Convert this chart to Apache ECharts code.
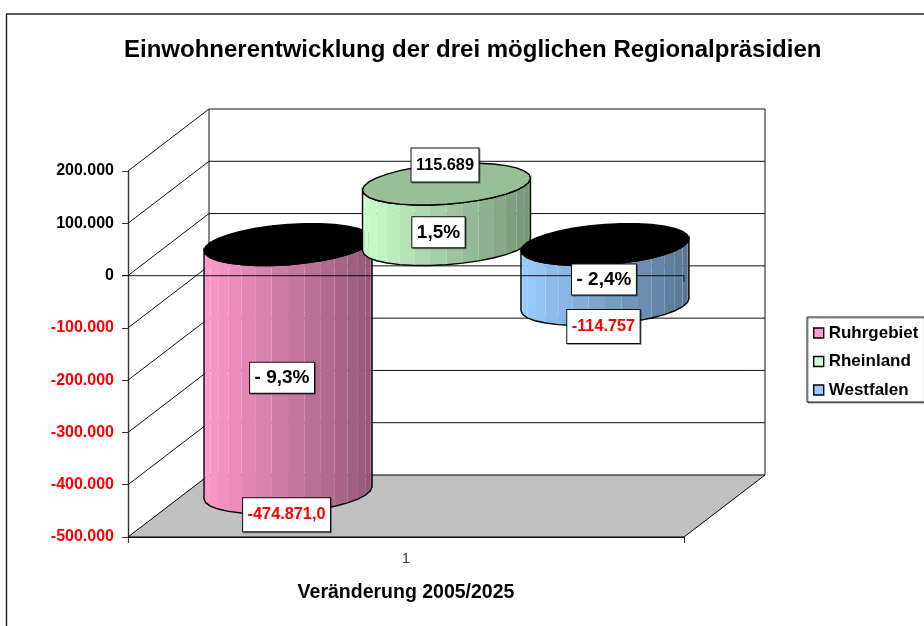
<!DOCTYPE html>
<html>
<head>
<meta charset="utf-8">
<style>html,body{margin:0;padding:0;background:#fff}#c{width:924px;height:626px}</style>
<script src="https://cdn.jsdelivr.net/npm/echarts@6/dist/echarts.min.js"></script>
</head>
<body>
<div id="c"></div>
<script>
// ---- data ----
const categories = ['1'];
const seriesNames = ['Ruhrgebiet', 'Rheinland', 'Westfalen'];
const ruhrgebiet = [-474871];
const rheinland = [115689];
const westfalen = [-114757];
const valueLabels = ['-474.871,0', '115.689', '-114.757'];
const shareLabels = ['- 9,3%', '1,5%', '- 2,4%'];
const yTicks = [-500000, -400000, -300000, -200000, -100000, 0, 100000, 200000];

// ---- styling / layout (not data) ----
const FONT = '"Liberation Sans", Arial, sans-serif';
const baseColors = [[255, 153, 204], [204, 255, 204], [153, 204, 255]];
const depthX = 81, depthY = -62;
const slotShare = 0.285;            // horizontal distance between cylinders / band width
const rx = 80.5, sx = 24, ry = 21;  // footprint ellipse: x radius, shear, y radius
const N = 16;
const valueLabelShift = [22, -19, 22];
const shareOffsets = [[-6, 9], [-8, 18], [-1, 5]];

const hex = a => 'rgb(' + a.map(v => Math.round(v)).join(',') + ')';
const shade = (c, f) => c.map(v => v * f);

function ellipsePoint(cx, cy, t) {
  return [cx + rx * Math.cos(t) + sx * Math.sin(t), cy - ry * Math.sin(t)];
}

function cylinderItem(params, api) {
  const idx = params.seriesIndex - 1;
  const val = api.value(1);
  const band = api.size([1, 0])[0];
  const base = api.coord([0, 0]);
  const end = api.coord([0, val]);
  const cx = base[0] + depthX / 2 + (idx - 1) * slotShare * band;
  const yTop = Math.min(base[1], end[1]) + depthY / 2;
  const yBot = Math.max(base[1], end[1]) + depthY / 2;
  const th = Math.atan2(sx, rx);
  const r = Math.hypot(rx, sx);
  const col = baseColors[idx];
  const t0 = Math.PI + th;
  const children = [];
  const bot = [], top = [], back = [];
  for (let k = 0; k <= N; k++) {
    const t = t0 + k * Math.PI / N;
    bot.push(ellipsePoint(cx, yBot, t));
    top.push(ellipsePoint(cx, yTop, t));
    back.push(ellipsePoint(cx, yTop, t + Math.PI));
  }
  for (let k = 0; k < N; k++) {
    const mid = (bot[k][0] + bot[k + 1][0]) / 2;
    const f = 1 - 0.42 * (mid - (cx - r)) / (2 * r);
    children.push({
      type: 'polygon',
      shape: { points: [top[k], top[k + 1], bot[k + 1], bot[k]] },
      style: { fill: hex(shade(col, f)) }
    });
  }
  children.push({
    type: 'polygon',
    shape: { points: top.concat(bot.slice().reverse()) },
    style: { fill: 'none', stroke: '#000', lineWidth: 1.4 }
  });
  children.push({
    type: 'polygon',
    shape: { points: top.concat(back.slice(1, N)) },
    style: { fill: val < 0 ? '#000' : hex(shade(col, 0.75)), stroke: '#000', lineWidth: 1.4 }
  });
  return { type: 'group', children: children };
}

function line(a, b, stroke, w) {
  return { type: 'line', shape: { x1: a[0], y1: a[1], x2: b[0], y2: b[1] }, style: { stroke: stroke, lineWidth: w } };
}

function frameItem(params, api) {
  const size = api.size([1, 0])[0];
  const left = api.coord([0, 0])[0] - size / 2;
  const right = left + size;
  const v = api.value(0);
  const y = api.coord([0, v])[1];
  const children = [];
  if (params.dataIndex === 0) {
    const yMaxPx = api.coord([0, yTicks[yTicks.length - 1]])[1];
    children.push({
      type: 'polygon',
      shape: { points: [[left, y], [left + depthX, y + depthY], [right + depthX, y + depthY], [right, y]] },
      style: { fill: '#c0c0c0', stroke: '#000', lineWidth: 1 }
    });
    children.push(line([left + depthX, y + depthY], [left + depthX, yMaxPx + depthY], '#111', 1));
    children.push(line([right + depthX, y + depthY], [right + depthX, yMaxPx + depthY], '#111', 1));
  } else {
    children.push(line([left, y], [left + depthX, y + depthY], '#111', 1));
    children.push(line([left + depthX, y + depthY], [right + depthX, y + depthY], '#111', 1));
  }
  return { type: 'group', children: children };
}

function labelBox(text, x, y, size, color, pad) {
  return {
    type: 'text',
    style: {
      text: text, x: x, y: y, align: 'center', verticalAlign: 'middle',
      font: 'bold ' + size + 'px ' + FONT, fill: color,
      backgroundColor: '#fff', borderColor: '#111', borderWidth: 1, padding: pad,
      shadowColor: 'rgba(0,0,0,0.4)', shadowOffsetX: 1, shadowOffsetY: 1, shadowBlur: 0
    }
  };
}

function overlayItem(params, api) {
  const i = params.dataIndex;
  const val = api.value(1);
  const band = api.size([1, 0])[0];
  const base = api.coord([0, 0]);
  const end = api.coord([0, val]);
  const cx = base[0] + depthX / 2 + (i - 1) * slotShare * band;
  const yTop = Math.min(base[1], end[1]) + depthY / 2;
  const yBot = Math.max(base[1], end[1]) + depthY / 2;
  const yEnd = val < 0 ? yBot : yTop;
  const children = [];
  if (i === 0) {
    const left = base[0] - band / 2, right = base[0] + band / 2;
    children.push(line([left - 6, base[1]], [right, base[1]], 'rgba(0,0,0,0.72)', 1.2));
    children.push(line([right, base[1]], [right, base[1] + 6], '#111', 1));
  }
  children.push(labelBox(valueLabels[i], cx - 1.5, yEnd + valueLabelShift[i],
    16.3, val < 0 ? '#ff0000' : '#000', [9, 4.5, 8, 4.5]));
  children.push(labelBox(shareLabels[i], cx + shareOffsets[i][0], (yTop + yBot) / 2 + shareOffsets[i][1],
    19, '#000', [6, 4.5, 5, 4.5]));
  return { type: 'group', children: children };
}

const cylinderSeries = [ruhrgebiet, rheinland, westfalen].map((vals, i) => ({
  type: 'custom',
  name: seriesNames[i],
  coordinateSystem: 'cartesian2d',
  z: 3,
  silent: true,
  itemStyle: { color: hex(baseColors[i]) },
  encode: { x: 0, y: 1 },
  data: vals.map((v, k) => [k, v]),
  renderItem: cylinderItem
}));

const chart = echarts.init(document.getElementById('c'), null, { renderer: 'canvas' });
chart.setOption({
  animation: false,
  backgroundColor: '#fff',
  title: {
    text: 'Einwohnerentwicklung der drei möglichen Regionalpräsidien',
    left: 124, top: 38, padding: 0,
    textStyle: { fontFamily: FONT, fontWeight: 'bold', fontSize: 24, color: '#000' }
  },
  graphic: [{
    type: 'rect', silent: true, z: -1,
    shape: { x: 6.5, y: 14, width: 1200, height: 1000 },
    style: { fill: 'none', stroke: '#222', lineWidth: 1.4 }
  }],
  legend: {
    data: seriesNames,
    orient: 'vertical',
    left: 807, top: 317,
    padding: [7, 6, 3, 6],
    itemGap: 10.5,
    itemWidth: 10, itemHeight: 10,
    itemStyle: { borderColor: '#000', borderWidth: 1.4 },
    icon: 'rect',
    backgroundColor: '#fff', borderColor: '#222', borderWidth: 1,
    shadowColor: 'rgba(0,0,0,0.4)', shadowOffsetX: 1, shadowOffsetY: 1,
    textStyle: { fontFamily: FONT, fontWeight: 'bold', fontSize: 17, color: '#000', lineHeight: 18 }
  },
  grid: { left: 128, top: 171, width: 556, height: 366, containLabel: false },
  xAxis: {
    type: 'category',
    data: categories,
    position: 'bottom',
    axisLine: { onZero: false, lineStyle: { color: '#111', width: 1.2 } },
    axisTick: { show: true, length: 6, lineStyle: { color: '#333' } },
    axisLabel: { margin: 15, fontFamily: FONT, fontSize: 14, color: '#333' },
    name: 'Veränderung 2005/2025',
    nameLocation: 'middle',
    nameGap: 46,
    nameTextStyle: { fontFamily: FONT, fontWeight: 'bold', fontSize: 19.5, color: '#000' }
  },
  yAxis: {
    type: 'value',
    min: yTicks[0], max: yTicks[yTicks.length - 1], interval: 100000,
    splitLine: { show: false },
    axisLine: { show: true, onZero: false, lineStyle: { color: '#333', width: 1.4 } },
    axisTick: { show: true, length: 6, lineStyle: { color: '#333' } },
    axisLabel: {
      margin: 14, fontFamily: FONT, fontWeight: 'bold', fontSize: 16,
      color: v => Number(v) < 0 ? '#ff0000' : '#000',
      formatter: v => String(v).replace(/\B(?=(\d{3})+(?!\d))/g, '.')
    }
  },
  series: [{
    type: 'custom',
    name: 'frame',
    z: 1,
    silent: true,
    encode: { y: 0 },
    data: yTicks.map(v => [v]),
    renderItem: frameItem
  }].concat(cylinderSeries).concat([{
    type: 'custom',
    name: 'overlay',
    z: 5,
    silent: true,
    encode: { x: 0, y: 1 },
    data: [ruhrgebiet[0], rheinland[0], westfalen[0]].map(v => [0, v]),
    renderItem: overlayItem
  }])
});
</script>
</body>
</html>
